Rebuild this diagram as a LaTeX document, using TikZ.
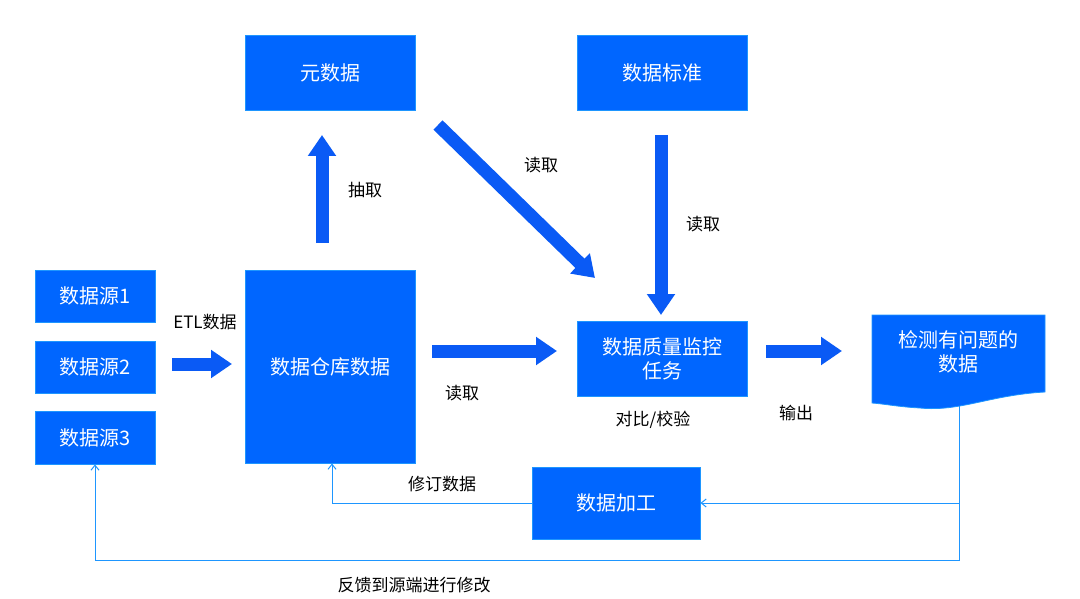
\documentclass[tikz,border=0pt]{standalone}
\usepackage{fontspec}
\setmainfont{Noto Sans CJK SC}
\usetikzlibrary{arrows.meta}
\definecolor{bx}{RGB}{0,102,255}
\definecolor{ar}{RGB}{10,90,245}
\definecolor{ln}{RGB}{30,150,255}
\begin{document}
\begin{tikzpicture}[x=1pt,y=-1pt,
 box/.style={fill=bx,draw=ln,line width=0.8pt,text=white,font=\fontsize{20}{24}\selectfont,align=center,inner sep=0pt},
 barrow/.style={draw=ar,line width=13pt,-{Triangle[width=27pt,length=21pt]}},
 thin/.style={draw=ln,line width=1pt,-{Straight Barb[length=5pt,width=8pt]}},
 lbl/.style={font=\fontsize{17}{20}\selectfont,text=black}]
\useasboundingbox (0,0) rectangle (1080,599);
\node[box,minimum width=170pt,minimum height=75pt] (meta) at (330,72.5) {元数据};
\node[box,minimum width=170pt,minimum height=75pt] (std) at (662,72.5) {数据标准};
\node[box,minimum width=120pt,minimum height=52pt] (s1) at (95,296) {数据源1};
\node[box,minimum width=120pt,minimum height=52pt] (s2) at (95,367) {数据源2};
\node[box,minimum width=120pt,minimum height=53pt] (s3) at (95,437.5) {数据源3};
\node[box,minimum width=170pt,minimum height=193pt] (dw) at (330,366.5) {数据仓库数据};
\node[box,minimum width=170pt,minimum height=75pt] (dq) at (662,358.5) {数据质量监控\\任务};
\node[box,minimum width=168pt,minimum height=72pt] (proc) at (616,503) {数据加工};
\fill[bx,draw=ln,line width=0.8pt] (872,315) -- (1045,315) -- (1045,392) .. controls (990,395) and (960,412) .. (920,408) .. controls (900,407) and (885,404) .. (872,403) -- cycle;
\node[text=white,font=\fontsize{20}{24}\selectfont,align=center] (doc) at (958,352) {检测有问题的\\数据};
\coordinate (docb) at (959,406);
% block arrows
\coordinate (a1s) at (322,243); \coordinate (a1e) at (322,135);
\coordinate (a2s) at (172,364); \coordinate (a2e) at (232,364);
\coordinate (a3s) at (438,125); \coordinate (a3e) at (595,278);
\coordinate (a4s) at (661,135); \coordinate (a4e) at (661,315);
\coordinate (a5s) at (432,351); \coordinate (a5e) at (557,351);
\coordinate (a6s) at (766,351); \coordinate (a6e) at (842,351);
\draw[barrow] (a1s) -- (a1e);
\draw[barrow] (a2s) -- (a2e);
\draw[barrow] (a3s) -- (a3e);
\draw[barrow] (a4s) -- (a4e);
\draw[barrow] (a5s) -- (a5e);
\draw[barrow] (a6s) -- (a6e);
% thin connectors
\draw[thin] (docb) -- (959,503) -- (proc.east);
\draw[thin] (959,503) -- (959,560) -- (95,560) -- (s3.south);
\draw[thin] (proc.west) -- (332,503) -- (332,463.5);
% labels
\node[lbl] (l1) at (365,190) {抽取};
\node[lbl] (l2) at (205,322) {ETL数据};
\node[lbl] (l3) at (541,165) {读取};
\node[lbl] (l4) at (703,224) {读取};
\node[lbl] (l5) at (462,393) {读取};
\node[lbl] (l6) at (653,420) {对比/校验};
\node[lbl] (l7) at (796,413) {输出};
\node[lbl] (l8) at (442,484) {修订数据};
\node[lbl] (l9) at (414,585) {反馈到源端进行修改};
\end{tikzpicture}
\end{document}
